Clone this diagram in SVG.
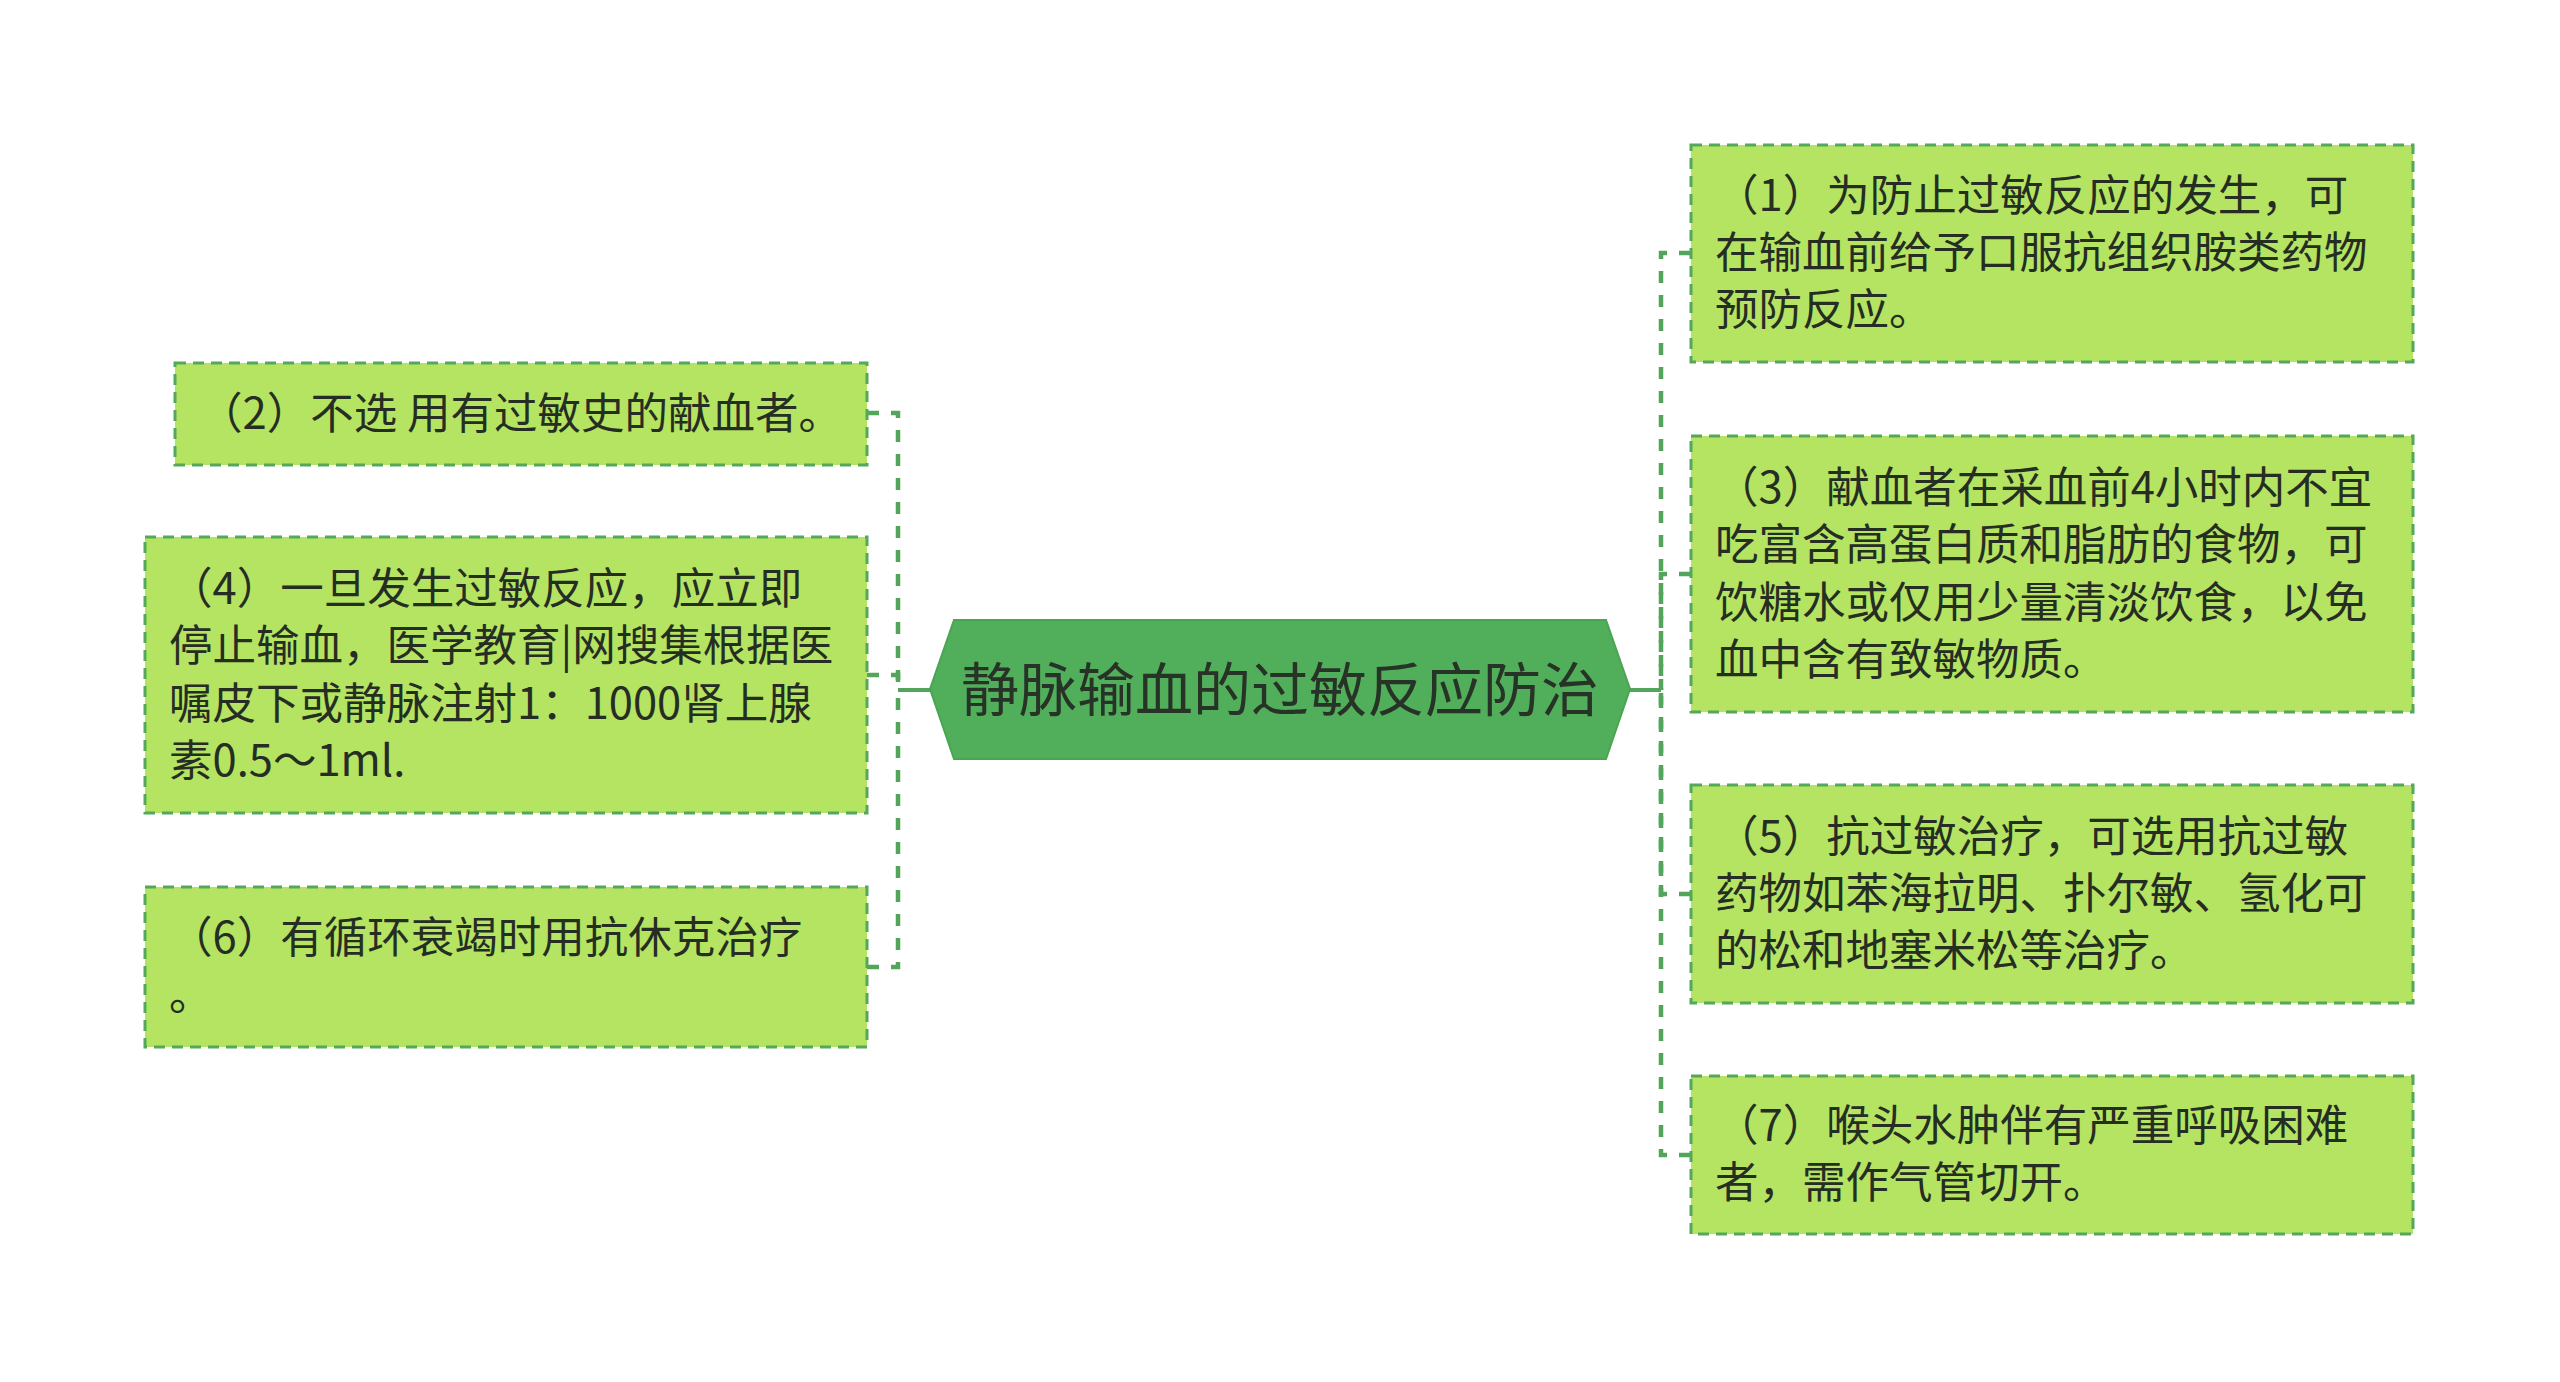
<svg xmlns="http://www.w3.org/2000/svg" width="2560" height="1382" viewBox="0 0 2560 1382">
<style>
.box{fill:#b4e462;stroke:#55a85a;stroke-width:3;stroke-dasharray:11 7;}
.t{font-family:"Noto Sans CJK SC","Noto Sans",sans-serif;font-size:43.5px;fill:#262d22;}
.title{font-family:"Noto Sans CJK SC","Noto Sans",sans-serif;font-size:58px;fill:#263326;}
.c{fill:none;stroke:#52a55a;stroke-width:4.5;stroke-dasharray:12 12;}
.cs{fill:none;stroke:#52a55a;stroke-width:4;}
</style>
<rect width="2560" height="1382" fill="#ffffff"/>
<g id="connectors">
<line class="cs" x1="930" y1="690" x2="898" y2="690"/>
<path class="c" d="M867,413 H898 V690"/>
<path class="c" d="M867,675 H898 V690"/>
<path class="c" d="M867,967 H898 V690"/>
<line class="cs" x1="1630" y1="690" x2="1661" y2="690"/>
<path class="c" d="M1691,253 H1661 V690"/>
<path class="c" d="M1691,574 H1661 V690"/>
<path class="c" d="M1691,894 H1661 V690"/>
<path class="c" d="M1691,1155 H1661 V690"/>
</g>
<g id="center">
<polygon points="930,689 954,620 1606,620 1630,689 1606,759 954,759" fill="#51ae5a" stroke="#4aa553" stroke-width="2"/>
<text class="title" x="1280" y="711" text-anchor="middle">静脉输血的过敏反应防治</text>
</g>
<g id="n2">
<rect class="box" x="175" y="363" width="692" height="102"/>
<text class="t" x="199" y="429">（2）不选 用有过敏史的献血者。</text>
</g>
<g id="n4">
<rect class="box" x="145" y="537" width="722" height="276"/>
<text class="t" x="169" y="604">（4）一旦发生过敏反应，应立即</text>
<text class="t" x="169" y="661">停止输血，医学教育|网搜集根据医</text>
<text class="t" x="169" y="719">嘱皮下或静脉注射1：1000肾上腺</text>
<text class="t" x="169" y="776">素0.5～1ml.</text>
</g>
<g id="n6">
<rect class="box" x="145" y="887" width="722" height="160"/>
<text class="t" x="169" y="953">（6）有循环衰竭时用抗休克治疗</text>
<text class="t" x="169" y="1010">。</text>
</g>
<g id="n1">
<rect class="box" x="1691" y="145" width="722" height="217"/>
<text class="t" x="1715" y="211">（1）为防止过敏反应的发生，可</text>
<text class="t" x="1715" y="268">在输血前给予口服抗组织胺类药物</text>
<text class="t" x="1715" y="325">预防反应。</text>
</g>
<g id="n3">
<rect class="box" x="1691" y="436" width="722" height="276"/>
<text class="t" x="1715" y="503">（3）献血者在采血前4小时内不宜</text>
<text class="t" x="1715" y="560">吃富含高蛋白质和脂肪的食物，可</text>
<text class="t" x="1715" y="618">饮糖水或仅用少量清淡饮食，以免</text>
<text class="t" x="1715" y="675">血中含有致敏物质。</text>
</g>
<g id="n5">
<rect class="box" x="1691" y="785" width="722" height="218"/>
<text class="t" x="1715" y="852">（5）抗过敏治疗，可选用抗过敏</text>
<text class="t" x="1715" y="909">药物如苯海拉明、扑尔敏、氢化可</text>
<text class="t" x="1715" y="966">的松和地塞米松等治疗。</text>
</g>
<g id="n7">
<rect class="box" x="1691" y="1076" width="722" height="158"/>
<text class="t" x="1715" y="1141">（7）喉头水肿伴有严重呼吸困难</text>
<text class="t" x="1715" y="1198">者，需作气管切开。</text>
</g>
</svg>
